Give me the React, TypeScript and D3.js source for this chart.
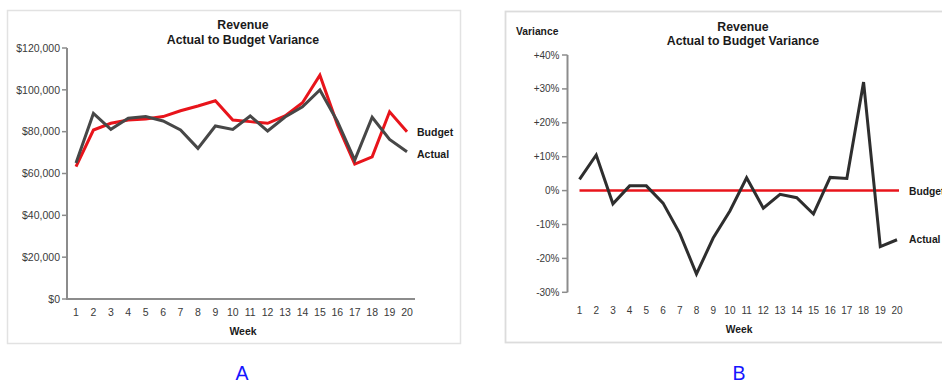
import React from "react";
import * as d3 from "d3";

// Weekly revenue, actual vs budget (USD)
const weeks: number[] = [1, 2, 3, 4, 5, 6, 7, 8, 9, 10, 11, 12, 13, 14, 15, 16, 17, 18, 19, 20];
const budget: number[] = [63300, 80800, 84000, 85600, 86100, 87200, 90000, 92300, 94800, 85600, 84800, 84000, 87500, 93800, 107000, 83500, 64500, 68000, 89500, 80000];
const actual: number[] = [65000, 88700, 81100, 86400, 87200, 85100, 80800, 72000, 82700, 81100, 87500, 80300, 87000, 91900, 99900, 85000, 66400, 86900, 76300, 70400];

// Actual-to-budget variance, percent
const variancePct: number[] = [3.3, 10.5, -3.9, 1.4, 1.4, -3.7, -12.6, -24.6, -14, -6, 3.8, -5.2, -1.1, -2.1, -6.9, 3.9, 3.6, 32, -16.5, -14.5];

const revenueTicks: number[] = [0, 20000, 40000, 60000, 80000, 100000, 120000];
const varianceTicks: number[] = [-30, -20, -10, 0, 10, 20, 30, 40];

const titleLines: string[] = ["Revenue", "Actual to Budget Variance"];

const FONT = "'Liberation Sans', Arial, Helvetica, sans-serif";
const AXIS = "#8c8c8c";
const TEXT = "#3a3a3a";
const RED = "#e8141b";
const GREY_LINE = "#474747";

function RevenueChart() {
  const x = d3.scaleLinear().domain([1, 20]).range([76, 407]);
  const y = d3.scaleLinear().domain([0, 120000]).range([299, 48]);
  const money = d3.format("$,.0f");
  const line = d3
    .line<number>()
    .x((_, i) => x(weeks[i]))
    .y((d) => y(d));
  const [y0, y1] = y.range();
  return (
    <g>
      <rect x={7.5} y={10.5} width={453} height={333} fill="#fff" stroke="#e2e2e2" strokeWidth={1.5} />
      <text x={243} y={28.5} textAnchor="middle" fontWeight="bold" fontSize={12.3} fill="#1a1a1a">{titleLines[0]}</text>
      <text x={243} y={43.5} textAnchor="middle" fontWeight="bold" fontSize={12.3} fill="#1a1a1a">{titleLines[1]}</text>
      {/* y axis */}
      <line x1={67} x2={67} y1={y1} y2={y0} stroke={AXIS} strokeWidth={2} />
      {revenueTicks.map((t) => (
        <g key={t}>
          <line x1={62} x2={67} y1={y(t)} y2={y(t)} stroke={AXIS} strokeWidth={1.5} />
          <text x={60} y={y(t)} dy="0.35em" textAnchor="end" fontSize={10.5} fill={TEXT}>{money(t)}</text>
        </g>
      ))}
      {/* x axis */}
      <line x1={66} x2={415} y1={y0} y2={y0} stroke={AXIS} strokeWidth={2} />
      {weeks.map((w) => (
        <text key={w} x={x(w)} y={316} textAnchor="middle" fontSize={10.5} fill={TEXT}>{w}</text>
      ))}
      <text x={243} y={335} textAnchor="middle" fontWeight="bold" fontSize={10.5} fill="#1a1a1a">Week</text>
      <path d={line(budget) ?? ""} fill="none" stroke={RED} strokeWidth={3} strokeLinejoin="miter" />
      <path d={line(actual) ?? ""} fill="none" stroke={GREY_LINE} strokeWidth={3} strokeLinejoin="miter" />
      <text x={417} y={135.5} fontWeight="bold" fontSize={10.5} fill="#1a1a1a">Budget</text>
      <text x={417} y={157.5} fontWeight="bold" fontSize={10.5} fill="#1a1a1a">Actual</text>
      <text x={242} y={380} textAnchor="middle" fontSize={19.5} fill="#1515ff">A</text>
    </g>
  );
}

function VarianceChart() {
  const x = d3.scaleLinear().domain([1, 20]).range([579.5, 897]);
  const y = d3.scaleLinear().domain([-30, 40]).range([292.3, 55]);
  const pct = (v: number) => (v > 0 ? `+${v}%` : `${v}%`);
  const line = d3
    .line<number>()
    .x((_, i) => x(weeks[i]))
    .y((d) => y(d));
  return (
    <g>
      <rect x={505.5} y={11.5} width={460} height={331} fill="#fff" stroke="#dcdcdc" strokeWidth={1.8} />
      <text x={743} y={30.5} textAnchor="middle" fontWeight="bold" fontSize={12.3} fill="#1a1a1a">{titleLines[0]}</text>
      <text x={743} y={45} textAnchor="middle" fontWeight="bold" fontSize={12.3} fill="#1a1a1a">{titleLines[1]}</text>
      <text x={516} y={34.5} fontWeight="bold" fontSize={10.3} fill="#1a1a1a">Variance</text>
      {/* y axis */}
      <line x1={567.5} x2={567.5} y1={y(40)} y2={y(-30)} stroke={AXIS} strokeWidth={2} />
      {varianceTicks.map((t) => (
        <g key={t}>
          <line x1={562} x2={567.5} y1={y(t)} y2={y(t)} stroke={AXIS} strokeWidth={1.5} />
          <text x={559.5} y={y(t)} dy="0.35em" textAnchor="end" fontSize={10} fill={TEXT}>{pct(t)}</text>
        </g>
      ))}
      {weeks.map((w) => (
        <text key={w} x={x(w)} y={313.5} textAnchor="middle" fontSize={10} fill={TEXT}>{w}</text>
      ))}
      <text x={739} y={332.5} textAnchor="middle" fontWeight="bold" fontSize={10.3} fill="#1a1a1a">Week</text>
      {/* budget baseline at zero variance */}
      <line x1={x(1)} x2={x(20) + 2} y1={y(0)} y2={y(0)} stroke={RED} strokeWidth={2.5} />
      <path d={line(variancePct) ?? ""} fill="none" stroke="#2e2e2e" strokeWidth={3} strokeLinejoin="miter" />
      <text x={909} y={194.7} fontWeight="bold" fontSize={10.3} fill="#1a1a1a">Budget</text>
      <text x={909} y={243.3} fontWeight="bold" fontSize={10.3} fill="#1a1a1a">Actual</text>
      <text x={739} y={380} textAnchor="middle" fontSize={19.5} fill="#1515ff">B</text>
    </g>
  );
}

export default function App() {
  return (
    <div style={{ position: "absolute", left: 0, top: 0 }}>
      <svg width={942} height={383} style={{ display: "block", fontFamily: FONT }}>
        <rect width={942} height={383} fill="#fff" />
        <RevenueChart />
        <VarianceChart />
      </svg>
    </div>
  );
}
